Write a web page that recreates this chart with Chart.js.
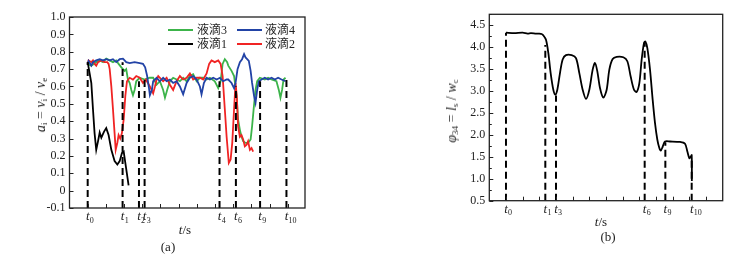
<!DOCTYPE html>
<html>
<head>
<meta charset="utf-8">
<script src="https://cdn.jsdelivr.net/npm/chart.js@4.4.0/dist/chart.umd.min.js"></script>
<style>
  body { margin: 0; background: #fff; width: 741px; height: 254px; position: relative; overflow: hidden;
         font-family: "Liberation Serif", "Times New Roman", "Noto Sans CJK SC", serif; color: #222; }
  canvas { position: absolute; top: 0; }
  .lbl { position: absolute; font-size: 13px; white-space: nowrap; transform: translate(-50%, -50%); }
  .rot { transform: translate(-50%, -50%) rotate(-90deg); font-size: 14px; }
  .leg { position: absolute; font-size: 12px; line-height: 12px; white-space: nowrap; }
  .sw { position: absolute; height: 2px; width: 25px; }
  sub { font-size: 9px; vertical-align: -2px; font-style: normal; }
</style>
</head>
<body>
<canvas id="chartA" width="320" height="254" style="left:0"></canvas>
<canvas id="chartB" width="301" height="254" style="left:440px"></canvas>

<!-- legend (a) -->
<div class="sw" style="left:168px;top:29px;background:#3cb44a"></div>
<div class="leg" style="left:197px;top:24px">液滴3</div>
<div class="sw" style="left:237px;top:29px;background:#2243a6"></div>
<div class="leg" style="left:265px;top:24px">液滴4</div>
<div class="sw" style="left:168px;top:43px;background:#000"></div>
<div class="leg" style="left:197px;top:38px">液滴1</div>
<div class="sw" style="left:237px;top:43px;background:#f02424"></div>
<div class="leg" style="left:265px;top:38px">液滴2</div>

<div class="lbl rot" style="left:41px;top:105px"><i>a<sub>i</sub></i> = <i>v<sub>i</sub></i> / <i>v</i><sub>e</sub></div>
<div class="lbl rot" style="left:452px;top:111px"><i>φ</i><sub>34</sub> = <i>l</i><sub>s</sub> / <i>w</i><sub>c</sub></div>
<div class="lbl" style="left:185px;top:230px"><i>t</i>/s</div>
<div class="lbl" style="left:601px;top:222px"><i>t</i>/s</div>
<div class="lbl" style="left:168px;top:247px">(a)</div>
<div class="lbl" style="left:608px;top:237px">(b)</div>

<script>
// ---- panel (a): droplet velocity ratio, [t, a_i] ----
const drop1 = [[1.0,0.74],[1.05,0.71],[1.2,0.62],[1.29,0.47],[1.38,0.33],[1.47,0.235],[1.57,0.285],[1.66,0.335],
  [1.75,0.305],[1.9,0.34],[2.02,0.36],[2.15,0.32],[2.3,0.235],[2.48,0.17],[2.63,0.15],[2.76,0.17],[2.88,0.215],
  [2.98,0.225],[3.07,0.16],[3.18,0.08],[3.25,0.03]];
const drop2 = [[1.0,0.73],[1.05,0.75],[1.2,0.74],[1.29,0.75],[1.38,0.73],[1.47,0.72],[1.57,0.74],[1.75,0.75],
  [1.93,0.74],[2.08,0.74],[2.15,0.73],[2.21,0.7],[2.3,0.6],[2.39,0.47],[2.48,0.33],[2.54,0.235],[2.63,0.275],
  [2.7,0.32],[2.79,0.3],[2.88,0.33],[2.98,0.41],[3.07,0.545],[3.16,0.63],[3.31,0.65],[3.49,0.64],[3.67,0.66],
  [3.86,0.65],[4.04,0.62],[4.2,0.64],[4.42,0.6],[4.6,0.56],[4.7,0.6],[4.79,0.64],[4.88,0.66],[5.15,0.63],
  [5.34,0.65],[5.52,0.61],[5.7,0.58],[5.89,0.63],[6.07,0.66],[6.25,0.64],[6.44,0.65],[6.62,0.675],[6.8,0.64],
  [6.99,0.65],[7.17,0.65],[7.35,0.64],[7.54,0.675],[7.68,0.73],[7.81,0.75],[7.99,0.74],[8.18,0.75],[8.31,0.73],
  [8.42,0.66],[8.54,0.47],[8.64,0.31],[8.76,0.16],[8.86,0.18],[8.95,0.275],[9.04,0.45],[9.13,0.62],[9.2,0.545],
  [9.27,0.37],[9.37,0.31],[9.46,0.32],[9.55,0.295],[9.64,0.255],[9.74,0.265],[9.82,0.285],[9.92,0.235],
  [10.01,0.245],[10.1,0.225]];
const drop3 = [[1.0,0.73],[1.2,0.72],[1.47,0.74],[1.66,0.75],[1.84,0.74],[2.02,0.76],[2.21,0.75],[2.39,0.74],
  [2.57,0.75],[2.7,0.73],[2.85,0.71],[3.03,0.69],[3.12,0.7],[3.21,0.64],[3.31,0.62],[3.4,0.58],[3.49,0.55],
  [3.58,0.58],[3.67,0.63],[3.86,0.65],[4.13,0.64],[4.41,0.65],[4.6,0.65],[4.79,0.61],[4.97,0.63],[5.15,0.58],
  [5.25,0.535],[5.37,0.58],[5.52,0.63],[5.7,0.65],[5.89,0.64],[6.07,0.63],[6.25,0.65],[6.44,0.63],[6.62,0.66],
  [6.8,0.67],[6.99,0.63],[7.17,0.65],[7.35,0.65],[7.54,0.64],[7.72,0.65],[7.99,0.63],[8.18,0.59],[8.31,0.63],
  [8.42,0.73],[8.54,0.757],[8.67,0.74],[8.73,0.72],[8.91,0.69],[9.05,0.66],[9.19,0.545],[9.27,0.41],[9.37,0.35],
  [9.46,0.31],[9.55,0.285],[9.68,0.275],[9.82,0.275],[9.96,0.295],[10.04,0.37],[10.14,0.485],[10.23,0.58],
  [10.32,0.63],[10.47,0.65],[10.74,0.64],[10.92,0.65],[11.11,0.64],[11.38,0.63],[11.51,0.58],[11.6,0.535],
  [11.69,0.58],[11.77,0.64],[11.88,0.65]];
const drop4 = [[1.0,0.73],[1.05,0.747],[1.2,0.72],[1.29,0.74],[1.47,0.75],[1.66,0.757],[1.84,0.75],[2.02,0.757],
  [2.21,0.75],[2.39,0.757],[2.57,0.74],[2.76,0.757],[2.94,0.76],[3.03,0.75],[3.12,0.74],[3.31,0.735],[3.58,0.74],
  [3.86,0.735],[4.04,0.73],[4.16,0.71],[4.27,0.66],[4.37,0.59],[4.42,0.55],[4.53,0.58],[4.6,0.63],[4.79,0.65],
  [4.97,0.63],[5.15,0.65],[5.34,0.63],[5.52,0.64],[5.7,0.62],[5.89,0.63],[6.07,0.6],[6.25,0.555],[6.44,0.62],
  [6.62,0.65],[6.8,0.66],[6.99,0.64],[7.17,0.6],[7.26,0.555],[7.39,0.62],[7.54,0.65],[7.72,0.64],[7.9,0.65],
  [8.09,0.64],[8.27,0.65],[8.45,0.63],[8.64,0.64],[8.73,0.64],[8.91,0.62],[9.05,0.59],[9.13,0.62],[9.24,0.7],
  [9.37,0.74],[9.49,0.757],[9.6,0.786],[9.68,0.767],[9.77,0.757],[9.86,0.747],[9.96,0.69],[10.04,0.62],
  [10.15,0.545],[10.23,0.506],[10.32,0.58],[10.41,0.63],[10.56,0.64],[10.74,0.65],[10.92,0.64],[11.11,0.65],
  [11.29,0.64],[11.47,0.65],[11.66,0.64],[11.88,0.63]];

// marked instants in (a): subscript, time, top of the dashed line
const tNamesA = ['0', '1', '2', '3', '4', '6', '9', '10'];
const tPosA = [1.0, 2.92, 3.82, 4.13, 8.25, 9.15, 10.48, 11.93];
const tTopA = [0.74, 0.74, 0.63, 0.64, 0.63, 0.6, 0.63, 0.64];
const xTicksA = [1, 2, 3, 4, 5, 6, 7, 8, 9, 10, 11, 12];

// ---- panel (b): phi_34, [t, value] ----
const phi34 = [[1.0,4.33],[1.5,4.32],[2.0,4.33],[2.3,4.31],[2.5,4.32],[2.8,4.31],[3.0,4.31],[3.14,4.3],[3.24,4.27],
  [3.4,4.17],[3.54,3.87],[3.68,3.41],[3.84,3.03],[3.96,2.92],[4.08,3.03],[4.24,3.41],[4.4,3.72],[4.6,3.82],
  [4.94,3.82],[5.2,3.75],[5.4,3.41],[5.6,3.03],[5.8,2.82],[6.0,3.03],[6.2,3.49],[6.34,3.64],[6.48,3.45],
  [6.64,3.07],[6.84,2.85],[7.04,3.03],[7.2,3.49],[7.4,3.73],[7.64,3.78],[8.04,3.77],[8.28,3.68],[8.48,3.33],
  [8.68,3.03],[8.84,2.98],[9.0,3.18],[9.14,3.72],[9.28,4.1],[9.36,4.13],[9.48,3.98],[9.64,3.49],[9.8,2.8],
  [9.94,2.27],[10.08,1.89],[10.2,1.7],[10.28,1.64],[10.4,1.73],[10.54,1.85],[10.84,1.85],[11.44,1.84],
  [11.74,1.8],[11.88,1.62],[12.0,1.47],[12.08,1.5],[12.14,1.54],[12.15,0.95]];
const tNamesB = ['0', '1', '3', '6', '9', '10'];
const tPosB = [1.0, 3.36, 4.0, 9.32, 10.56, 12.14];
const tTopB = [4.33, 4.05, 2.9, 4.1, 1.83, 1.5];
const xTicksB = [1, 2, 3, 4, 5, 6, 7, 8, 9, 10, 11, 12, 13];

const SERIF = '"Liberation Serif", "Times New Roman", serif';

// frame, inward ticks and t_i labels
const framePlugin = {
  id: 'frame',
  afterDraw(chart, args, opts) {
    const { ctx, chartArea: a, scales: { x, y } } = chart;
    ctx.save();
    ctx.strokeStyle = '#222';
    ctx.lineWidth = 1.3;
    ctx.strokeRect(a.left, a.top, a.right - a.left, a.bottom - a.top);
    ctx.lineWidth = 1;
    ctx.beginPath();
    x.ticks.forEach(t => {
      const px = Math.round(x.getPixelForValue(t.value)) + 0.5;
      ctx.moveTo(px, a.bottom); ctx.lineTo(px, a.bottom - 4);
    });
    y.ticks.forEach(t => {
      const py = Math.round(y.getPixelForValue(t.value)) + 0.5;
      ctx.moveTo(a.left, py); ctx.lineTo(a.left + (t.label === '' ? 2.5 : 4), py);
    });
    ctx.stroke();

    ctx.fillStyle = '#222';
    ctx.textBaseline = 'alphabetic';
    const base = a.bottom + 12;
    opts.names.forEach((n, i) => {
      const px = x.getPixelForValue(opts.pos[i]);
      ctx.font = 'italic 13px ' + SERIF;
      const w = ctx.measureText('t').width;
      ctx.fillText('t', px - w / 2, base);
      ctx.font = '8px ' + SERIF;
      ctx.fillText(n, px + w / 2 + 0.3, base + 2.5);
    });
    ctx.restore();
  }
};

function dashedLines(pos, top, bottom) {
  return pos.map((t, i) => ({
    data: [{ x: t, y: bottom }, { x: t, y: top[i] }],
    borderColor: '#000', borderWidth: 2, borderDash: [7, 4], pointRadius: 0
  }));
}

function curve(points, color, tension) {
  return {
    data: points.map(p => ({ x: p[0], y: p[1] })),
    borderColor: color, borderWidth: 1.8, pointRadius: 0, tension: tension || 0
  };
}

function makeChart(id, datasets, xMax, xTicks, yOpts, yWidth, xHeight, pad, frameOpts) {
  return new Chart(document.getElementById(id), {
    type: 'line',
    data: { datasets: datasets },
    options: {
      responsive: false,
      animation: false,
      layout: { padding: pad },
      plugins: { legend: { display: false }, tooltip: { enabled: false }, frame: frameOpts },
      scales: {
        x: {
          type: 'linear', min: 0, max: xMax,
          grid: { display: false, drawTicks: false }, border: { display: false },
          ticks: { display: false },
          afterBuildTicks: s => { s.ticks = xTicks.map(v => ({ value: v })); },
          afterFit: s => { s.height = xHeight; }
        },
        y: Object.assign({
          grid: { display: false, drawTicks: false }, border: { display: false },
          afterFit: s => { s.width = yWidth; }
        }, yOpts)
      }
    },
    plugins: [framePlugin]
  });
}

makeChart('chartA',
  dashedLines(tPosA, tTopA, -0.1).concat([
    curve(drop1, '#000'),
    curve(drop4, '#2243a6'),
    curve(drop2, '#f02424'),
    curve(drop3, '#3cb44a')
  ]),
  12.95, xTicksA,
  {
    min: -0.1, max: 1.0,
    ticks: {
      stepSize: 0.1, padding: 4, autoSkip: false, color: '#222', font: { family: SERIF, size: 12 },
      callback: v => Math.abs(v) < 1e-9 ? '0' : v.toFixed(1)
    }
  },
  69.5, 46, { top: 17, right: 15, left: 0, bottom: 0 },
  { names: tNamesA, pos: tPosA }
);

makeChart('chartB',
  dashedLines(tPosB, tTopB, 0.5).concat([curve(phi34, '#000', 0.3)]),
  14, xTicksB,
  {
    min: 0.5, max: 4.75,
    ticks: {
      stepSize: 0.25, padding: 4, autoSkip: false, color: '#222', font: { family: SERIF, size: 12 },
      callback: v => Math.abs(v * 2 - Math.round(v * 2)) < 1e-6 ? v.toFixed(1) : ''
    }
  },
  49.3, 53.3, { top: 14.3, right: 18.3, left: 0, bottom: 0 },
  { names: tNamesB, pos: tPosB }
);
</script>
</body>
</html>
